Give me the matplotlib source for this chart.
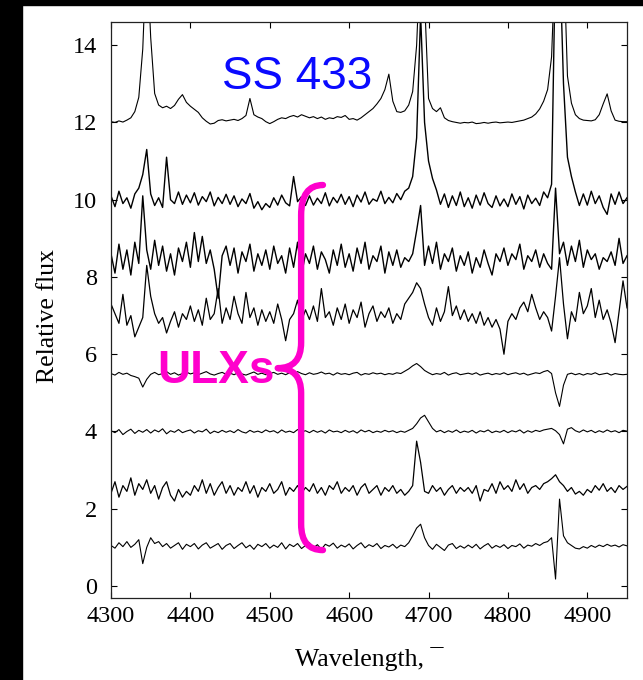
import numpy as np
import matplotlib
matplotlib.use("Agg")
import matplotlib.pyplot as plt
from matplotlib.path import Path
from matplotlib.patches import PathPatch, Rectangle

# wavelength grid (5 A steps)
wave = np.arange(4300, 4951, 5)

ss433 = [12.02, 12.00, 12.04, 12.01, 12.06, 12.12, 12.28, 12.65, 13.90, 16.50,
         14.20, 12.75, 12.45, 12.38, 12.42, 12.36, 12.44, 12.60, 12.72, 12.52,
         12.42, 12.34, 12.26, 12.12, 12.03, 11.96, 11.98, 12.05, 12.07, 12.04,
         12.06, 12.08, 12.05, 12.10, 12.18, 12.62, 12.20, 12.14, 12.10, 12.02,
         11.97, 12.02, 12.08, 12.12, 12.10, 12.15, 12.18, 12.14, 12.20, 12.16,
         12.12, 12.15, 12.10, 12.14, 12.08, 12.12, 12.10, 12.15, 12.13, 12.18,
         12.08, 12.10, 12.06, 12.12, 12.20, 12.28, 12.36, 12.48, 12.62, 12.85,
         13.25, 12.55, 12.28, 12.26, 12.30, 12.45, 12.80, 14.00, 16.50, 15.20,
         12.62, 12.36, 12.28, 12.38, 12.12, 12.05, 12.02, 12.00, 11.98, 12.00,
         11.99, 12.01, 11.97, 11.98, 12.00, 11.98, 12.00, 12.01, 11.99, 12.00,
         12.01, 12.00, 12.02, 12.04, 12.06, 12.10, 12.14, 12.22, 12.35, 12.55,
         12.85, 13.70, 16.50, 16.50, 16.50, 13.20, 12.50, 12.20, 12.10, 12.06,
         12.05, 12.04, 12.07, 12.20, 12.48, 12.74, 12.30, 12.06, 12.03, 12.02,
         12.02]

ulx1 = [10.10, 9.82, 10.22, 9.90, 10.05, 9.78, 10.15, 10.30, 10.65, 11.30,
        10.15, 9.85, 10.05, 9.80, 11.10, 10.00, 9.90, 10.20, 9.88, 10.12,
        9.92, 10.18, 9.86, 10.08, 9.95, 10.20, 9.84, 10.06, 9.90, 10.14,
        9.88, 10.10, 9.82, 10.02, 9.90, 10.16, 9.78, 9.95, 9.74, 9.90,
        9.80, 10.05, 9.86, 10.12, 9.92, 9.84, 10.60, 9.95, 10.08, 9.85,
        10.10, 9.86, 10.04, 9.90, 10.18, 9.84, 10.06, 9.92, 10.14, 9.88,
        10.08, 9.82, 10.12, 9.94, 10.20, 9.88, 10.02, 9.96, 10.22, 9.90,
        10.06, 9.92, 10.16, 10.00, 10.22, 10.30, 10.60, 11.60, 14.80, 12.00,
        11.00, 10.55, 10.25, 9.88, 10.15, 9.80, 10.10, 9.85, 10.20, 9.82,
        10.05, 9.78, 10.12, 9.86, 10.18, 9.90, 9.80, 10.10, 9.84, 10.02,
        9.82, 10.15, 9.88, 10.08, 9.76, 10.12, 9.90, 10.04, 9.85, 10.20,
        10.05, 10.40, 16.50, 16.50, 13.00, 11.10, 10.60, 10.20, 9.85, 10.15,
        9.86, 10.22, 9.90, 10.10, 9.80, 9.62, 10.15, 9.88, 10.20, 9.90,
        10.05]

ulx2 = [8.60, 8.10, 8.85, 8.20, 8.70, 8.05, 8.90, 8.35, 10.10, 8.70,
        8.20, 8.95, 8.30, 8.80, 8.15, 8.60, 8.05, 8.75, 8.40, 8.90,
        8.25, 9.15, 8.40, 9.05, 8.35, 8.70, 8.20, 7.45, 8.55, 8.80,
        8.30, 8.75, 8.10, 8.65, 8.40, 8.85, 8.15, 8.60, 8.30, 8.70,
        8.20, 8.80, 8.35, 8.55, 8.10, 8.75, 8.25, 8.90, 8.05, 8.60,
        8.35, 8.80, 8.20, 8.65, 8.45, 8.10, 8.70, 8.30, 8.85, 8.25,
        8.60, 8.15, 8.75, 8.35, 8.90, 8.20, 8.55, 8.40, 8.80, 8.10,
        8.65, 8.30, 8.70, 8.25, 8.50, 8.40, 8.60, 9.20, 9.85, 8.30,
        8.80, 8.35, 8.90, 8.20, 8.60, 8.40, 8.75, 8.15, 8.55, 8.30,
        8.65, 8.10, 8.50, 8.25, 8.70, 8.35, 8.05, 8.60, 8.40, 8.75,
        8.30, 8.60, 8.45, 8.85, 8.20, 8.55, 8.40, 8.70, 8.25, 8.60,
        8.35, 8.20, 10.30, 8.60, 8.90, 8.30, 8.80, 8.40, 8.95, 8.25,
        8.70, 8.45, 8.60, 8.20, 8.50, 8.40, 8.65, 8.30, 9.00, 8.35,
        8.55]

ulx3 = [7.30, 7.05, 6.80, 7.55, 6.75, 7.00, 6.45, 6.70, 6.95, 8.30,
        7.50, 7.05, 6.80, 6.95, 6.55, 6.85, 7.10, 6.70, 7.05, 6.90,
        7.25, 6.85, 7.15, 6.75, 7.45, 6.90, 7.05, 7.70, 6.80, 7.20,
        6.90, 7.50, 7.05, 6.80, 7.60, 6.95, 7.20, 6.75, 7.15, 6.85,
        7.10, 6.80, 7.30, 6.90, 6.35, 6.90, 7.05, 7.40, 6.85, 7.15,
        6.90, 7.25, 6.85, 7.70, 6.95, 7.10, 6.75, 7.20, 6.90, 7.30,
        6.80, 7.15, 6.95, 7.35, 6.70, 7.05, 7.25, 6.85, 7.10, 6.95,
        7.20, 6.80, 7.05, 6.90, 7.30, 7.45, 7.60, 7.85, 7.70, 7.30,
        6.95, 6.75, 7.20, 6.85, 7.10, 7.75, 7.00, 7.25, 6.90, 7.15,
        6.85, 7.05, 6.80, 7.10, 6.75, 6.95, 6.70, 6.90, 6.65, 6.00,
        6.85, 7.05, 6.90, 7.20, 7.35, 7.10, 7.55, 7.20, 6.90, 7.10,
        6.95, 6.60, 7.50, 8.50, 7.30, 6.40, 7.10, 6.85, 7.60, 7.05,
        7.25, 7.70, 6.95, 7.40, 6.90, 7.15, 6.80, 6.30, 7.10, 7.90,
        7.20]

ulx4 = [5.50, 5.46, 5.53, 5.48, 5.51, 5.45, 5.42, 5.38, 5.15, 5.35,
        5.48, 5.53, 5.47, 5.50, 5.55, 5.48, 5.52, 5.46, 5.50, 5.54,
        5.49, 5.52, 5.47, 5.51, 5.55, 5.49, 5.46, 5.50, 5.53, 5.48,
        5.51, 5.47, 5.52, 5.49, 5.46, 5.50, 5.54, 5.48, 5.51, 5.47,
        5.50, 5.53, 5.48, 5.51, 5.47, 5.52, 5.49, 5.55, 5.50, 5.47,
        5.52, 5.48, 5.50, 5.54, 5.49, 5.51, 5.46, 5.52, 5.48, 5.50,
        5.47, 5.51, 5.53, 5.46, 5.50, 5.48, 5.52, 5.49, 5.51, 5.47,
        5.50, 5.48, 5.52, 5.50, 5.56, 5.62, 5.70, 5.76, 5.68, 5.58,
        5.52, 5.47, 5.50, 5.48, 5.53, 5.46, 5.50, 5.52, 5.47, 5.49,
        5.51, 5.48, 5.52, 5.46, 5.49, 5.51, 5.47, 5.50, 5.48, 5.52,
        5.47, 5.50, 5.52, 5.48, 5.51, 5.46, 5.49, 5.52, 5.50, 5.55,
        5.58, 5.50, 5.00, 4.65, 5.20, 5.48, 5.51, 5.47, 5.50, 5.46,
        5.50, 5.48, 5.52, 5.47, 5.49, 5.51, 5.46, 5.50, 5.48, 5.47,
        5.48]

ulx5 = [4.02, 3.97, 4.05, 3.92, 4.00, 4.06, 3.95, 4.03, 3.98, 4.05,
        3.96, 4.04, 3.99, 4.07, 3.94, 4.02, 3.98, 4.05, 3.97, 4.01,
        4.04, 3.96, 4.02, 3.99, 4.06, 3.95, 4.01, 3.97, 4.03, 3.98,
        4.02, 3.97, 4.05, 3.99, 3.96, 4.03, 3.98, 4.01, 3.97, 4.04,
        3.99, 4.02, 3.96, 4.04, 3.98, 4.01, 3.97, 4.05, 3.99, 4.02,
        3.97, 4.03, 3.98, 4.02, 3.96, 4.04, 3.99, 4.01, 3.97, 4.03,
        3.98, 4.02, 3.96, 4.04, 3.99, 4.03, 3.97, 4.01, 3.98, 4.03,
        3.99, 4.02, 3.97, 4.01, 3.98, 4.03, 4.08, 4.20, 4.35, 4.42,
        4.25, 4.08, 3.99, 4.03, 3.97, 4.02, 3.98, 4.04, 3.97, 4.01,
        3.98, 4.03, 3.96, 4.02, 3.99, 4.04, 3.97, 4.01, 3.98, 4.03,
        3.97, 4.02, 3.99, 4.04, 3.96, 4.02, 3.98, 4.03, 4.00, 4.04,
        4.06, 4.08, 4.02, 3.92, 3.68, 4.06, 4.10, 4.02, 3.98, 4.04,
        3.99, 4.03, 3.97, 4.02, 3.98, 4.04, 3.99, 4.02, 3.97, 4.03,
        4.01]

ulx6 = [2.40, 2.70, 2.30, 2.60, 2.45, 2.80, 2.35, 2.65, 2.50, 2.75,
        2.40, 2.60, 2.25, 2.55, 2.70, 2.35, 2.20, 2.50, 2.30, 2.45,
        2.35, 2.60, 2.45, 2.75, 2.40, 2.65, 2.35, 2.55, 2.70, 2.40,
        2.60, 2.35, 2.55, 2.45, 2.70, 2.40, 2.60, 2.30, 2.55, 2.45,
        2.65, 2.40, 2.50, 2.70, 2.35, 2.55, 2.45, 2.60, 2.40, 2.55,
        2.45, 2.65, 2.40, 2.55, 2.35, 2.60, 2.50, 2.70, 2.40, 2.55,
        2.45, 2.60, 2.35, 2.55, 2.65, 2.40, 2.50, 2.60, 2.35, 2.55,
        2.45, 2.60, 2.40, 2.50, 2.35, 2.45, 2.60, 3.75, 3.20, 2.45,
        2.40, 2.60, 2.45, 2.55, 2.35, 2.50, 2.60, 2.40, 2.55, 2.45,
        2.55, 2.40, 2.60, 2.20, 2.50, 2.45, 2.65, 2.40, 2.70, 2.50,
        2.60, 2.45, 2.75, 2.50, 2.65, 2.40, 2.55, 2.60, 2.50, 2.65,
        2.70, 2.78, 2.88, 2.70, 2.60, 2.45, 2.55, 2.38, 2.45, 2.35,
        2.50, 2.42, 2.60, 2.48, 2.65, 2.45, 2.55, 2.42, 2.60, 2.50,
        2.58]

ulx7 = [1.05, 0.98, 1.12, 1.02, 1.15, 1.00, 1.08, 1.20, 0.58, 1.00,
        1.25, 1.10, 1.15, 1.02, 1.10, 0.98, 1.05, 1.12, 0.95, 1.08,
        1.02, 1.10, 0.96, 1.06, 1.12, 0.98, 1.04, 1.10, 0.95, 1.05,
        1.10, 0.97, 1.05, 1.12, 0.99, 1.06, 0.95, 1.08, 1.02, 1.10,
        0.98, 1.06, 1.00, 1.12, 0.96, 1.08, 1.02, 1.10, 0.97, 1.05,
        1.12, 0.99, 1.07, 0.95, 1.08, 1.03, 1.11, 0.98, 1.06, 1.01,
        1.09, 0.96, 1.05, 1.12, 0.99, 1.07, 1.02, 1.10, 0.97, 1.05,
        1.01, 1.08, 0.98, 1.06, 1.02, 1.12, 1.30, 1.50, 1.60, 1.25,
        1.05, 0.95, 1.08, 1.00, 0.92, 1.06, 1.10, 0.97, 1.04, 0.98,
        1.06, 0.99, 1.08, 0.96, 1.04, 1.10, 0.98, 1.05, 1.00, 1.07,
        0.97, 1.05, 1.02, 1.09, 0.98, 1.06, 1.03, 1.10, 1.05, 1.12,
        1.15, 1.25, 0.18, 2.25, 1.30, 1.12, 1.05, 0.98, 0.96, 1.02,
        0.98, 1.05, 1.00, 1.06, 1.02, 1.08, 1.03, 1.06, 1.01, 1.07,
        1.04]

spectra = [ss433, ulx1, ulx2, ulx3, ulx4, ulx5, ulx6, ulx7]
widths = [0.8, 1.0, 1.0, 0.9, 0.8, 0.8, 0.9, 0.8]

x_ticks = [4300, 4400, 4500, 4600, 4700, 4800, 4900]
y_ticks = [0, 2, 4, 6, 8, 10, 12, 14]

plt.rcParams['font.family'] = ['Liberation Serif', 'DejaVu Serif']

fig = plt.figure(figsize=(6.43, 6.8), dpi=100)
ax = fig.add_axes([111/643, 82/680, 516/643, 576/680])

for s, w in zip(spectra, widths):
    ax.plot(wave, s, color='black', lw=w)

ax.set_xlim(4300, 4950)
ax.set_ylim(-0.31, 14.6)
ax.set_xticks(x_ticks)
ax.set_yticks(y_ticks)
ax.tick_params(direction='in', top=True, right=True, length=4.5, width=0.8,
               labelsize=17.5, colors='black')
ax.tick_params(axis='x', pad=6)
ax.tick_params(axis='y', pad=10)
for sp in ax.spines.values():
    sp.set_linewidth(0.9)
    sp.set_color('#222222')

ax.set_xlabel('Wavelength, ¯', fontsize=18.5)
ax.set_ylabel('Relative flux', fontsize=18.5)
ax.xaxis.set_label_coords(0.5, -0.085)
ax.yaxis.set_label_coords(-0.10, 0.49)

# annotations
ax.text(4534, 12.86, 'SS 433', color='#0a0aff', fontsize=33,
        family='Liberation Sans', ha='center', va='baseline')
ax.text(4432, 5.25, 'ULXs', color='#ff00cc', fontsize=33, fontweight='bold',
        family='Liberation Sans', ha='center', va='baseline')

# curly brace
verts = [(4567, 10.38), (4539.5, 10.38), (4539.5, 9.6),
         (4539.5, 6.3),
         (4539.5, 5.64), (4510, 5.64),
         (4539.5, 5.64), (4539.5, 5.0),
         (4539.5, 1.6),
         (4539.5, 0.93), (4567, 0.93)]
codes = [Path.MOVETO, Path.CURVE3, Path.CURVE3,
         Path.LINETO,
         Path.CURVE3, Path.CURVE3,
         Path.CURVE3, Path.CURVE3,
         Path.LINETO,
         Path.CURVE3, Path.CURVE3]
brace = PathPatch(Path(verts, codes), facecolor='none', edgecolor='#ff00cc',
                  lw=4.6, capstyle='round', joinstyle='round', zorder=5)
ax.add_patch(brace)

# black borders of the slide
fig.patches.append(Rectangle((0, 0), 22/643, 1, transform=fig.transFigure,
                             color='black', zorder=10))
fig.patches.append(Rectangle((0, 1 - 5/680), 1, 5/680, transform=fig.transFigure,
                             color='black', zorder=10))

fig.savefig('out.png', dpi=100)
